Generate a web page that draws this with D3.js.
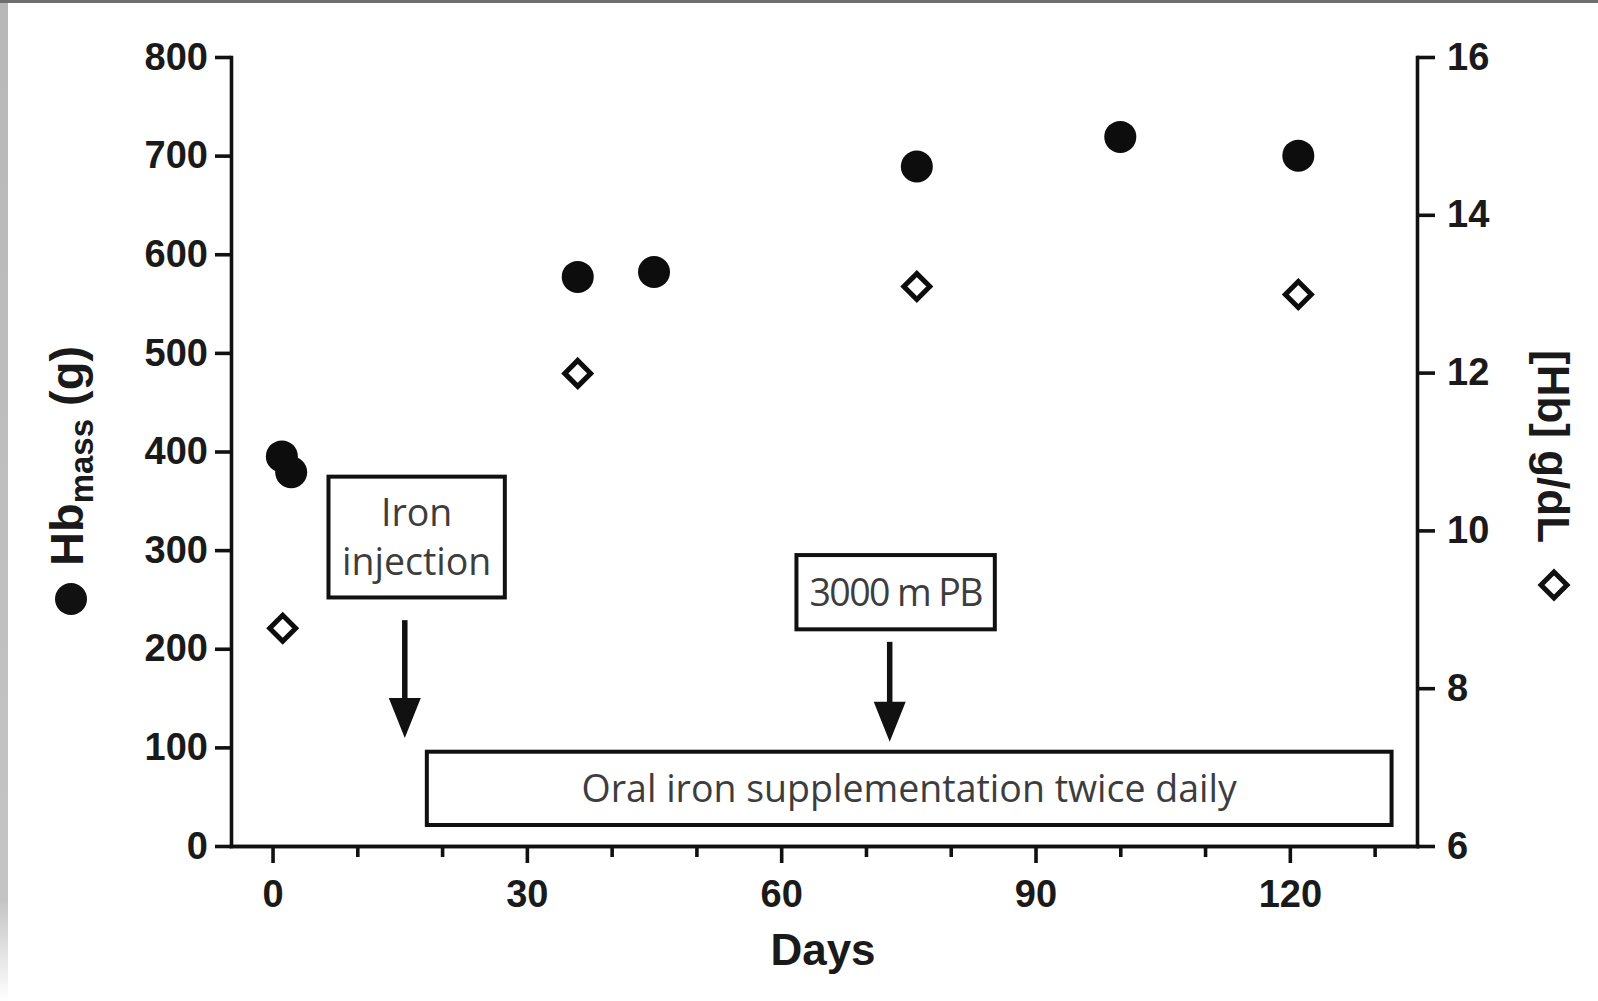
<!DOCTYPE html>
<html>
<head>
<meta charset="utf-8">
<script src="https://cdn.jsdelivr.net/npm/d3@7"></script>
<style>
  html, body { margin: 0; padding: 0; background: #fff; }
  svg { display: block; }
</style>
</head>
<body>
<svg id="chart" width="1598" height="1001"></svg>
<script>
// ---------------- DATA ----------------
const massDays   = [1.1, 2.2, 36, 45, 76, 100, 121];
const massValues = [395, 379, 577, 582, 689, 719, 700];

const concDays   = [1.2, 36, 76, 121];
const concValues = [8.76, 11.99, 13.09, 12.99];

const leftTicks   = [0, 100, 200, 300, 400, 500, 600, 700, 800];
const rightTicks  = [6, 8, 10, 12, 14, 16];
const xMajorTicks = [0, 30, 60, 90, 120];
const xMinorTicks = [10, 20, 40, 50, 70, 80, 100, 110, 130];

const xTitle     = "Days";
const leftTitle  = ["Hb", "mass", " (g)"];
const rightTitle = "[Hb] g/dL";

// annotations in data units (days, grams on left axis)
const boxLabels   = [["Iron", "injection"], ["3000 m PB"], ["Oral iron supplementation twice daily"]];
const boxDayFrom  = [6.6, 61.8, 18.2];
const boxDayTo    = [27.4, 85.2, 132.0];
const boxMassLow  = [252, 219.7, 21.3];
const boxMassHigh = [374.5, 295, 95.6];

const arrowDays     = [15.6, 72.8];
const arrowMassFrom = [229, 207];
const arrowMassTo   = [109.5, 105.7];

// ---------------- CHART ----------------
const svg = d3.select("#chart");
const W = 1598, H = 1001;

// frame decoration (scan border)
const defs = svg.append("defs");
const lg = defs.append("linearGradient").attr("id", "leftEdge").attr("x1", 0).attr("x2", 0).attr("y1", 0).attr("y2", 1);
lg.append("stop").attr("offset", "0").attr("stop-color", "#b8b8b8");
lg.append("stop").attr("offset", "0.9").attr("stop-color", "#c4c4c4");
lg.append("stop").attr("offset", "1").attr("stop-color", "#ffffff");
svg.append("rect").attr("x", 0).attr("y", 0).attr("width", 8).attr("height", H).attr("fill", "url(#leftEdge)");
svg.append("rect").attr("x", 0).attr("y", 0).attr("width", W).attr("height", 3).attr("fill", "#6e6e6e");

const x  = d3.scaleLinear().domain([-4.9, 135]).range([231, 1417]);
const yL = d3.scaleLinear().domain([0, 800]).range([846, 57]);
const yR = d3.scaleLinear().domain([6, 16]).range([846, 57]);

const axisStroke = 3.6;
const tickFont = "'Liberation Sans', Arial, sans-serif";

function styleAxis(g, fontSize) {
  g.select(".domain").attr("stroke", "#111").attr("stroke-width", axisStroke).attr("stroke-linecap", "square");
  g.selectAll(".tick line").attr("stroke", "#111").attr("stroke-width", axisStroke);
  g.selectAll(".tick text").attr("fill", "#1a1a1a").attr("font-size", fontSize).attr("font-weight", "bold")
    .attr("font-family", tickFont);
}

// x minor ticks
const gxMinor = svg.append("g").attr("transform", `translate(0,${yL(0)})`)
  .call(d3.axisBottom(x).tickValues(xMinorTicks).tickSize(11).tickSizeOuter(0).tickFormat(""));
styleAxis(gxMinor, 38);
// x major ticks
const gx = svg.append("g").attr("transform", `translate(0,${yL(0)})`)
  .call(d3.axisBottom(x).tickValues(xMajorTicks).tickSize(17).tickPadding(17).tickSizeOuter(0));
styleAxis(gx, 38);

// left axis
const gl = svg.append("g").attr("transform", `translate(${x(-4.9)},0)`)
  .call(d3.axisLeft(yL).tickValues(leftTicks).tickSize(16).tickPadding(7).tickSizeOuter(0));
styleAxis(gl, 38);

// right axis
const gr = svg.append("g").attr("transform", `translate(${x(135)},0)`)
  .call(d3.axisRight(yR).tickValues(rightTicks).tickSize(18).tickPadding(12).tickSizeOuter(0));
styleAxis(gr, 38);

// x title
svg.append("text").attr("x", 823).attr("y", 965).attr("text-anchor", "middle")
  .attr("font-family", tickFont).attr("font-weight", "bold").attr("font-size", 44).attr("fill", "#1a1a1a")
  .text(xTitle);

// left title (rotated)
const lt = svg.append("text").attr("transform", "translate(83,566) rotate(-90)")
  .attr("font-family", tickFont).attr("font-weight", "bold").attr("font-size", 47).attr("fill", "#1a1a1a");
lt.append("tspan").text(leftTitle[0]);
lt.append("tspan").attr("font-size", 33).attr("dy", 10).text(leftTitle[1]);
lt.append("tspan").attr("dy", -10).text(leftTitle[2]);
svg.append("circle").attr("cx", 71).attr("cy", 599).attr("r", 16).attr("fill", "#111");

// right title (rotated)
svg.append("text").attr("transform", "translate(1538,350) rotate(90)")
  .attr("font-family", tickFont).attr("font-weight", "bold").attr("font-size", 44).attr("fill", "#1a1a1a")
  .text(rightTitle);
const diamondPath = d3.symbol().type(d3.symbolDiamond2).size(430)();
svg.append("path").attr("d", diamondPath).attr("transform", "translate(1554,585)")
  .attr("fill", "#fff").attr("stroke", "#111").attr("stroke-width", 5).attr("stroke-linejoin", "miter");

// annotation boxes
const annFont = "'Open Sans', Lato, sans-serif";
boxLabels.forEach((lines, i) => {
  const x0 = x(boxDayFrom[i]), x1 = x(boxDayTo[i]);
  const y0 = yL(boxMassHigh[i]), y1 = yL(boxMassLow[i]);
  svg.append("rect").attr("x", x0).attr("y", y0).attr("width", x1 - x0).attr("height", y1 - y0)
    .attr("fill", "#fff").attr("stroke", "#111").attr("stroke-width", 4);
  const cx = (x0 + x1) / 2, cy = (y0 + y1) / 2;
  const lh = 49;
  lines.forEach((ln, j) => {
    const t = svg.append("text").attr("x", cx).attr("y", cy + (j - (lines.length - 1) / 2) * lh)
      .attr("dy", "0.36em").attr("text-anchor", "middle")
      .attr("font-family", annFont).attr("font-size", 37.5).attr("fill", "#3d3d3d")
      .text(ln);
    // digits in the reference are set tightly
    if (/\d{3}/.test(ln)) t.attr("letter-spacing", -1.6);
  });
});

// arrows
arrowDays.forEach((d, i) => {
  const ax = x(d), ay0 = yL(arrowMassFrom[i]), ay1 = yL(arrowMassTo[i]);
  const headH = 40, headW = 32;
  svg.append("line").attr("x1", ax).attr("x2", ax).attr("y1", ay0).attr("y2", ay1 - headH + 2)
    .attr("stroke", "#111").attr("stroke-width", 5.5);
  svg.append("path")
    .attr("d", `M${ax - headW / 2},${ay1 - headH}L${ax + headW / 2},${ay1 - headH}L${ax},${ay1}Z`)
    .attr("fill", "#111");
});

// data: Hb mass (filled circles)
svg.append("g").selectAll("circle").data(massDays).join("circle")
  .attr("cx", (d) => x(d)).attr("cy", (d, i) => yL(massValues[i])).attr("r", 16).attr("fill", "#0d0d0d");

// data: [Hb] (open diamonds)
svg.append("g").selectAll("path").data(concDays).join("path")
  .attr("d", diamondPath)
  .attr("transform", (d, i) => `translate(${x(d)},${yR(concValues[i])})`)
  .attr("fill", "#fff").attr("stroke", "#0d0d0d").attr("stroke-width", 5);
</script>
</body>
</html>
